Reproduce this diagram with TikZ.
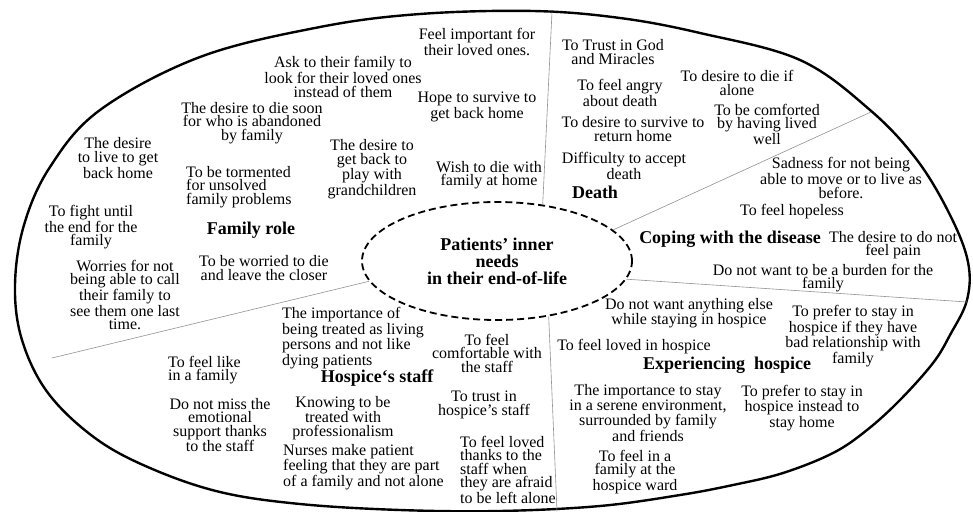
\documentclass[tikz,border=0pt]{standalone}
\usepackage{fontspec}
\setmainfont{Liberation Serif}
\usetikzlibrary{shapes.geometric}
\begin{document}
\begin{tikzpicture}[x=1pt,y=-1pt,
  txt/.style={font=\fontsize{16}{13.5}\selectfont, align=center, inner sep=0pt},
  txtl/.style={txt, align=left, anchor=west},
  hd/.style={font=\fontsize{18}{17}\selectfont\bfseries, align=center, inner sep=0pt},
  divider/.style={draw=gray!85, line width=0.6pt},
  outerline/.style={line width=2.4pt},
  corebox/.style={ellipse, draw, dash pattern=on 7pt off 4pt, line width=1.8pt,
    minimum width=270pt, minimum height=118pt, inner sep=0pt,
    font=\fontsize{18}{17}\selectfont\bfseries, align=center}
]
\useasboundingbox (0,0) rectangle (973,511);
\fill[white] (0,0) rectangle (973,511);

% outer boundary
\draw[outerline] plot[smooth cycle, tension=0.6] coordinates {
 (15,285) (24,225) (50,167) (100,110) (200,57) (320,27) (420,14) (533,11)
 (620,18) (700,33) (800,60) (870,110) (917,160) (950,215) (968,262)
 (967,300) (950,335) (933,363) (900,400) (867,430) (833,453) (783,473)
 (733,485) (680,495) (600,506) (500,511) (400,510) (300,504) (220,492)
 (150,468) (95,438) (48,393) (22,340)};

% centre
\node[corebox] (core) at (497,261) {Patients’ inner\\needs\\in their end-of-life};

% dividers
\coordinate (o1) at (552,12);
\coordinate (o2) at (871,112);
\coordinate (o3) at (967,302);
\coordinate (o4) at (557,511);
\coordinate (o5) at (52,358);
\draw[divider] (core.51) -- (o1);
\draw[divider] (core.15) -- (o2);
\draw[divider] (core.-8) -- (o3);
\draw[divider] (core.-47) -- (o4);
\draw[divider] (core.189) -- (o5);

% Family role
\node[hd] (fam) at (251,230) {Family role};
\node[txt] (f1) at (343,77) {Ask to their family to\\look for their loved ones\\instead of them};
\node[txt] (f2) at (252,123) {The desire to die soon\\for who is abandoned\\by family};
\node[txt] (f3) at (118,158) {The desire\\to live to get\\back home};
\node[txtl] (f4) at (186,187) {To be tormented\\for unsolved\\family problems};
\node[txt] (f5) at (91,227) {To fight until\\the end for the\\family};
\node[txt] (f6) at (125,295) {Worries for not\\being able to call\\their family to\\see them one last\\time.};
\node[txt] (f7) at (264,268) {To be worried to die\\and leave the closer};
\node[txt] (f8) at (372,169) {The desire to\\get back to\\play with\\grandchildren};
\node[txt] (f9) at (477,42) {Feel important for\\their loved ones.};
\node[txt] (f10) at (477,107) {Hope to survive to\\get back home};
\node[txt] (f11) at (489,175) {Wish to die with\\family at home};

% Death
\node[hd] (death) at (595,192) {Death};
\node[txt] (d1) at (613,52) {To Trust in God\\and Miracles};
\node[txt] (d2) at (620,93) {To feel angry\\about death};
\node[txt] (d3) at (633,129) {To desire to survive to\\return home};
\node[txt] (d4) at (624,166) {Difficulty to accept\\death};
\node[txt] (d5) at (737,83) {To desire to die if\\alone};
\node[txt] (d6) at (767,124) {To be comforted\\by having lived\\well};

% Coping
\node[hd] (cope) at (730,239) {Coping with the disease};
\node[txt] (c1) at (841,178) {Sadness for not being\\able to move or to live as\\before.};
\node[txt] (c2) at (792,212) {To feel hopeless};
\node[txt] (c3) at (893,245) {The desire to do not\\feel pain};
\node[txt] (c4) at (823,278) {Do not want to be a burden for the\\family};

% Experiencing hospice
\node[hd] (exper) at (727,365) {Experiencing\ \ hospice};
\node[txt] (e1) at (689,313) {Do not want anything else\\while staying in hospice};
\node[txt] (e2) at (634,347) {To feel loved in hospice};
\node[txt] (e3) at (853,336) {To prefer to stay in\\hospice if they have\\bad relationship with\\family};
\node[txt] (e4) at (648,413) {The importance to stay\\in a serene environment,\\surrounded by family\\and friends};
\node[txt] (e5) at (802,408) {To prefer to stay in\\hospice instead to\\stay home};
\node[txt] (e6) at (635,472) {To feel in a\\family at the\\hospice ward};

% Hospice's staff
\node[hd] (staff) at (377,378) {Hospice‘s staff};
\node[txtl] (h1) at (168,370) {To feel like\\in a family};
\node[txt] (h2) at (220,425) {Do not miss the\\emotional\\support thanks\\to the staff};
\node[txtl] (h3) at (282,338) {The importance of\\being treated as living\\persons and not like\\dying patients};
\node[txt] (h4) at (343,418) {Knowing to be\\treated with\\professionalism};
\node[txtl] (h5) at (283,467) {Nurses make patient\\feeling that they are part\\of a family and not alone};
\node[txt] (h6) at (487,353) {To feel\\comfortable with\\the staff};
\node[txt] (h7) at (484,405) {To trust in\\hospice’s staff};
\node[txtl] (h8) at (460,470) {To feel loved\\thanks to the\\staff when\\they are afraid\\to be left alone};
\end{tikzpicture}
\end{document}
